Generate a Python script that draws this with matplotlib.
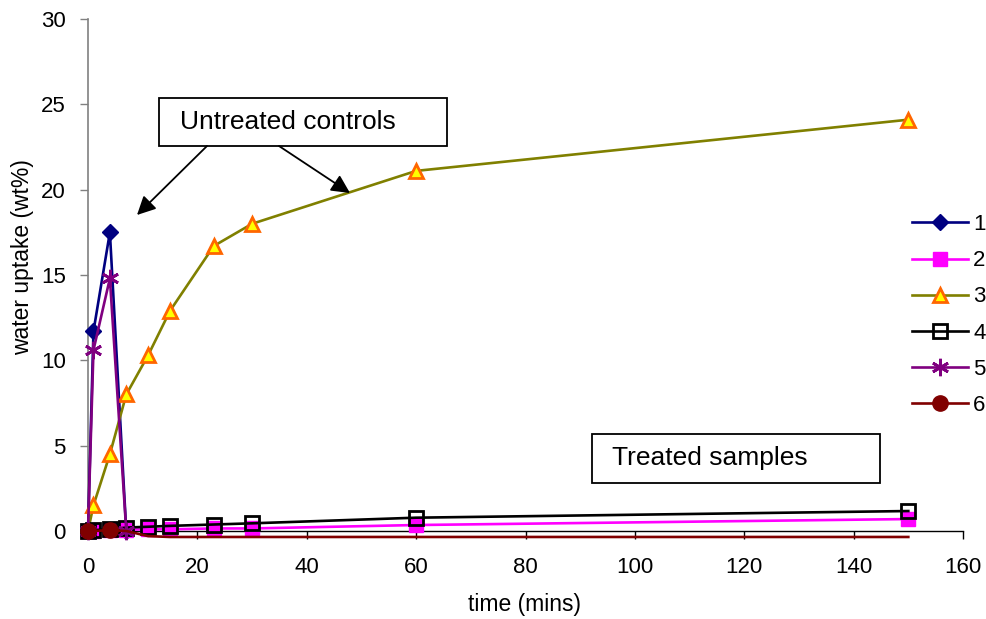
import matplotlib
matplotlib.use("Agg")
import matplotlib.pyplot as plt
from matplotlib.patches import Rectangle, FancyArrowPatch

plt.rcParams['font.family'] = ['Liberation Sans', 'DejaVu Sans']

# ---- data ----
t_short = [0, 1, 4, 7]
s1 = [0, 11.7, 17.5, 0]
s5 = [0, 10.6, 14.8, 0]

t_long = [0, 1, 4, 7, 11, 15, 23, 30, 60, 150]
s2 = [0, 0.02, 0.05, 0.08, 0.1, 0.1, 0.15, 0.15, 0.35, 0.7]
s3 = [0, 1.5, 4.5, 8.0, 10.3, 12.9, 16.7, 18.0, 21.1, 24.1]
s4 = [0, 0.05, 0.1, 0.2, 0.25, 0.3, 0.38, 0.45, 0.78, 1.17]
s6 = [0, 0.0, 0.05, 0.0, -0.3, -0.35, -0.35, -0.35, -0.35, -0.35]

series_labels = ['1', '2', '3', '4', '5', '6']
xticks = [0, 20, 40, 60, 80, 100, 120, 140, 160]
yticks = [0, 5, 10, 15, 20, 25, 30]

W, H = 987, 619
fig = plt.figure(figsize=(W / 100, H / 100), dpi=100)

ppu = (531 - 19) / 30.0
ymin = -0.6
bottom_px = 531 + (-ymin) * ppu
ax = fig.add_axes([88 / W, (H - bottom_px) / H, (963 - 88) / W, (bottom_px - 19) / H])

lw = 1.9
ms = 9.5
h1, = ax.plot(t_short, s1, color='#000080', lw=lw, marker='D', ms=ms - 1,
              mfc='#000080', mec='#000080', label='1', clip_on=False, zorder=3)
h2, = ax.plot(t_long, s2, color='#FF00FF', lw=lw, marker='s', ms=ms,
              mfc='#FF00FF', mec='#FF00FF', label='2', clip_on=False, zorder=3)
h3, = ax.plot(t_long, s3, color='#808000', lw=lw, marker='^', ms=ms + 1,
              mfc='#FFFF00', mec='#FF6600', mew=2.0, label='3', clip_on=False, zorder=3,
              markevery=list(range(1, len(t_long))))
h4, = ax.plot(t_long, s4, color='black', lw=lw, marker='s', ms=ms,
              mfc='none', mec='black', mew=2.0, label='4', clip_on=False, zorder=3)
h5, = ax.plot(t_short, s5, color='#800080', lw=lw, marker=(6, 2, 0), ms=ms + 3,
              mec='#800080', mew=2.0, label='5', clip_on=False, zorder=3)
h6, = ax.plot(t_long, s6, color='#800000', lw=lw, marker='o', ms=ms + 1.5,
              mfc='#800000', mec='#800000', label='6', clip_on=False, zorder=3,
              markevery=[0, 2])

ax.set_xlim(0, 160)
ax.set_ylim(ymin, 30)
ax.set_xticks(xticks)
ax.set_yticks(yticks)
ax.tick_params(labelsize=16, length=6, width=1, color='#808080', direction='out')
ax.spines['top'].set_visible(False)
ax.spines['right'].set_visible(False)
ax.spines['bottom'].set_position(('data', 0))
ax.spines['left'].set_bounds(0, 30)
ax.spines['left'].set_color('#808080')
ax.spines['bottom'].set_color('black')
ax.spines['left'].set_linewidth(1.2)
ax.spines['bottom'].set_linewidth(1.0)
ax.tick_params(axis='x', pad=13, color='black')
ax.tick_params(axis='y', pad=10)

fig.text(524 / W, 1 - 605 / H, 'time (mins)', ha='center', va='center', fontsize=16.5)
fig.text(23 / W, 1 - 257 / H, 'water uptake (wt%)', ha='center', va='center',
         rotation=90, fontsize=16.5)

leg = fig.legend(handles=[h1, h2, h3, h4, h5, h6], labels=series_labels,
                 loc='center left', bbox_to_anchor=(912 / W, 1 - 315 / H),
                 frameon=False, fontsize=16, handlelength=2.5, handletextpad=0.25,
                 labelspacing=0.68, borderpad=0, borderaxespad=0)

# annotation boxes
def box(x0, y0, x1, y1, text, tx):
    fig.add_artist(Rectangle((x0 / W, 1 - y1 / H), (x1 - x0) / W, (y1 - y0) / H,
                             transform=fig.transFigure, fill=True, fc='white',
                             ec='black', lw=1.3, zorder=5))
    fig.text(tx / W, 1 - (y0 + y1) / 2 / H, text, ha='left', va='center',
             fontsize=19, zorder=6)

box(159, 98, 447, 146, 'Untreated controls', 180)
box(592, 434, 880, 483, 'Treated samples', 612)

for (xs, ys, xe, ye) in [(207, 146, 137, 215), (279, 146, 350, 193)]:
    fig.add_artist(FancyArrowPatch(
        (xs / W, 1 - ys / H), (xe / W, 1 - ye / H), transform=fig.transFigure,
        arrowstyle='-|>', mutation_scale=28, lw=1.3, color='black',
        shrinkA=0, shrinkB=0, zorder=6))

fig.savefig('out.png', dpi=100)
